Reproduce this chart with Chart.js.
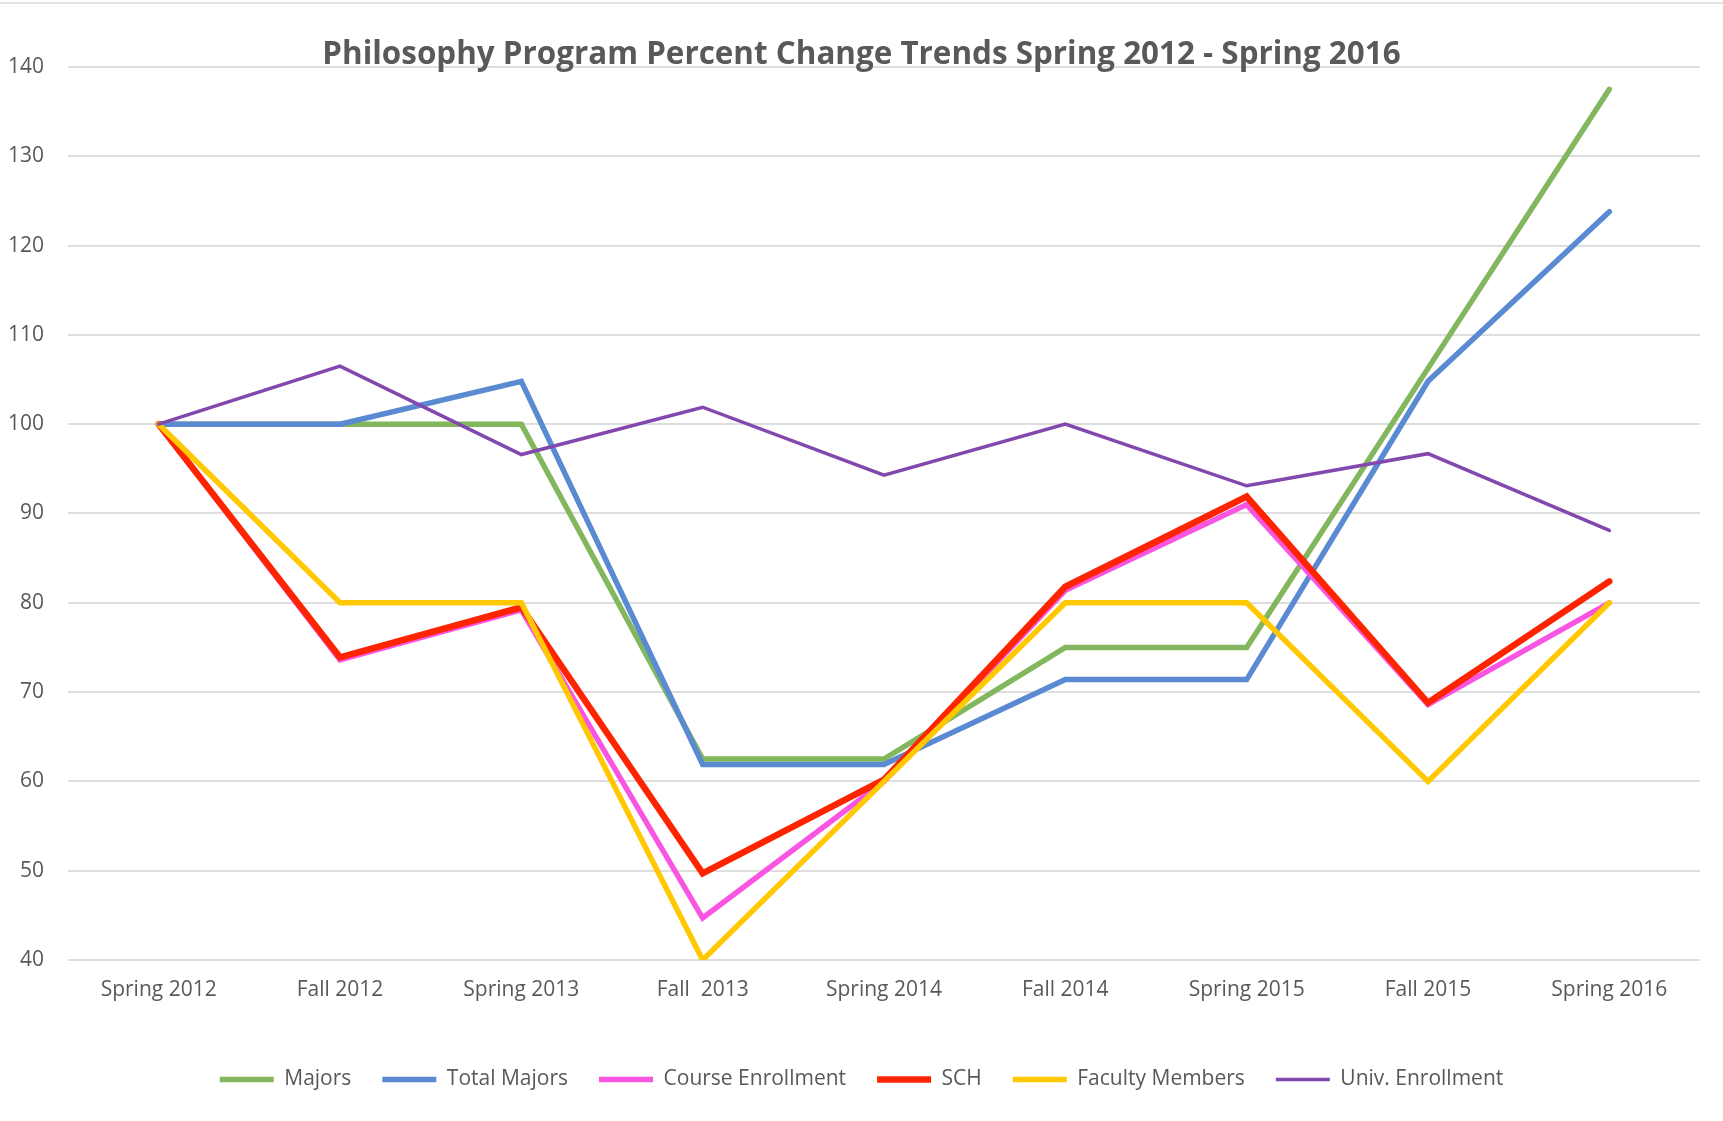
<!DOCTYPE html>
<html>
<head>
<meta charset="utf-8">
<script src="https://cdn.jsdelivr.net/npm/chart.js@4"></script>
<style>
  html, body { margin: 0; padding: 0; background: #ffffff; }
  #wrap { position: relative; width: 1723px; height: 1121px; }
  #topline { position: absolute; left: 0; top: 2px; width: 1723px; height: 2px; background: #e3e3e3; }
  canvas { display: block; }
</style>
</head>
<body>
<div id="wrap">
  <canvas id="c" width="1723" height="1121"></canvas>
  <div id="topline"></div>
</div>
<script>
const categories = ['Spring 2012', 'Fall 2012', 'Spring 2013', 'Fall  2013', 'Spring 2014', 'Fall 2014', 'Spring 2015', 'Fall 2015', 'Spring 2016'];
const majors = [100, 100, 100, 62.5, 62.5, 75, 75, 106.25, 137.5];
const totalMajors = [100, 100, 104.8, 61.9, 61.9, 71.4, 71.4, 104.8, 123.8];
const courseEnrollment = [100, 73.6, 79.2, 44.7, 60, 81.4, 91.0, 68.6, 80];
const sch = [100, 73.9, 79.5, 49.7, 60.2, 81.8, 91.9, 68.8, 82.4];
const facultyMembers = [100, 80, 80, 40, 60, 80, 80, 60, 80];
const univEnrollment = [100, 106.5, 96.6, 101.9, 94.3, 100, 93.1, 96.7, 88.1];
const yTicks = [40, 50, 60, 70, 80, 90, 100, 110, 120, 130, 140];

const seriesNames = ['Majors', 'Total Majors', 'Course Enrollment', 'SCH', 'Faculty Members', 'Univ. Enrollment'];
const seriesData = [majors, totalMajors, courseEnrollment, sch, facultyMembers, univEnrollment];
const seriesColors = ['#82B75E', '#5A8AD2', '#FA55E2', '#FF2400', '#FFC800', '#8348AE'];
const seriesWidths = [5.5, 5.5, 5.5, 6.5, 5.5, 3.5];

const FONT = "'Open Sans', 'DejaVu Sans', sans-serif";

const datasets = seriesNames.map((name, i) => ({
  label: name,
  data: seriesData[i],
  borderColor: seriesColors[i],
  backgroundColor: seriesColors[i],
  borderWidth: seriesWidths[i],
  borderCapStyle: 'round',
  borderJoinStyle: 'miter',
  pointRadius: 0,
  pointHoverRadius: 0,
  tension: 0,
  fill: false,
  order: seriesNames.length - i
}));

new Chart(document.getElementById('c'), {
  type: 'line',
  data: { labels: categories, datasets: datasets },
  options: {
    responsive: false,
    animation: false,
    events: [],
    layout: { padding: { left: 0, right: 0, top: 0, bottom: 21 } },
    plugins: {
      title: {
        display: true,
        text: 'Philosophy Program Percent Change Trends Spring 2012 - Spring 2016',
        color: '#595959',
        font: { family: FONT, size: 31.4, weight: 'bold', lineHeight: 1.2 },
        padding: { top: 36, bottom: -6.7 }
      },
      legend: {
        position: 'bottom',
        labels: {
          usePointStyle: true,
          pointStyle: 'line',
          pointStyleWidth: 54,
          boxHeight: 21,
          color: '#595959',
          font: { family: FONT, size: 21 },
          padding: 31,
          sort: (a, b) => a.datasetIndex - b.datasetIndex
        }
      },
      tooltip: { enabled: false }
    },
    scales: {
      x: {
        type: 'category',
        offset: true,
        grid: { display: false, drawTicks: false },
        border: { display: false },
        ticks: {
          color: '#595959',
          font: { family: FONT, size: 21 },
          padding: 17,
          maxRotation: 0,
          autoSkip: false
        },
        afterFit: (scale) => { scale.height = 78; }
      },
      y: {
        min: 40,
        max: 140,
        afterBuildTicks: (scale) => { scale.ticks = yTicks.map(v => ({ value: v })); },
        grid: { color: '#DEDEDE', lineWidth: 2, drawTicks: false },
        border: { display: false },
        ticks: {
          color: '#595959',
          font: { family: FONT, size: 21 },
          padding: 24
        },
        afterFit: (scale) => { scale.width = 68; }
      },
      yRightSpace: {
        position: 'right',
        display: true,
        min: 40,
        max: 140,
        grid: { display: false, drawTicks: false },
        border: { display: false },
        ticks: { display: false },
        afterFit: (scale) => { scale.width = 23; }
      }
    }
  }
});
</script>
</body>
</html>
